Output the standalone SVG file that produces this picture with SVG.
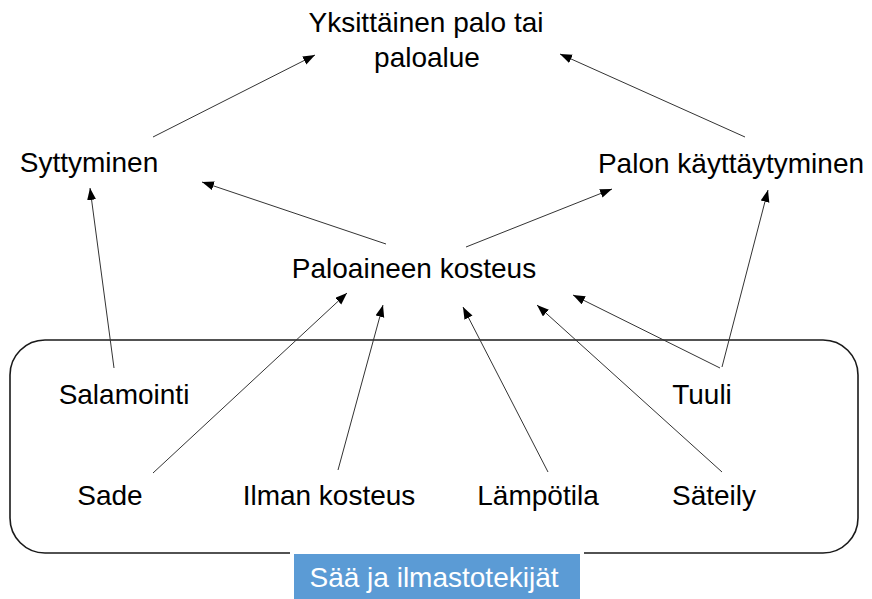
<svg xmlns="http://www.w3.org/2000/svg" width="872" height="599" viewBox="0 0 872 599">
<style>
text{font-family:"Liberation Sans",Arial,sans-serif;font-size:28px;fill:#000;text-anchor:middle}
.c line{stroke:#333;stroke-width:1;marker-end:url(#ah)}
</style>
<defs>
<marker id="ah" markerUnits="userSpaceOnUse" markerWidth="12" markerHeight="10" refX="12" refY="4.5" orient="auto">
<path d="M0,0 L12,4.5 L0,9 z" fill="#000"/>
</marker>
</defs>
<rect width="872" height="599" fill="#fff"/>
<g id="frame">
<rect x="10" y="340" width="848" height="213" rx="35" ry="35" fill="none" stroke="#1a1a1a" stroke-width="1.6"/>
</g>
<g id="label">
<rect x="292" y="552" width="290" height="50" fill="#5B9BD5" stroke="#fff" stroke-width="4"/>
<text x="434" y="587" style="fill:#fff">Sää ja ilmastotekijät</text>
</g>
<g class="c" id="connectors">
<line x1="153" y1="137" x2="315" y2="55"/>
<line x1="745" y1="137" x2="560" y2="54"/>
<line x1="386" y1="244" x2="202" y2="182"/>
<line x1="466" y1="247" x2="612" y2="189"/>
<line x1="114" y1="368" x2="90" y2="188"/>
<line x1="722" y1="367" x2="768" y2="190"/>
<line x1="720" y1="368" x2="573" y2="295"/>
<line x1="722" y1="472" x2="537" y2="305"/>
<line x1="548" y1="472" x2="463" y2="307"/>
<line x1="338" y1="470" x2="383" y2="305"/>
<line x1="153" y1="473" x2="347" y2="293"/>
</g>
<g id="n-top"><text x="426" y="32">Yksittäinen palo tai</text><text x="427" y="67">paloalue</text></g>
<g id="n-syttyminen"><text x="89" y="172">Syttyminen</text></g>
<g id="n-palon"><text x="731" y="173">Palon käyttäytyminen</text></g>
<g id="n-kosteus"><text x="414" y="278">Paloaineen kosteus</text></g>
<g id="n-salamointi"><text x="124" y="404">Salamointi</text></g>
<g id="n-tuuli"><text x="702" y="404">Tuuli</text></g>
<g id="n-sade"><text x="110" y="505">Sade</text></g>
<g id="n-ilman"><text x="329" y="505">Ilman kosteus</text></g>
<g id="n-lampotila"><text x="538" y="505">Lämpötila</text></g>
<g id="n-sateily"><text x="714" y="505">Säteily</text></g>
</svg>
